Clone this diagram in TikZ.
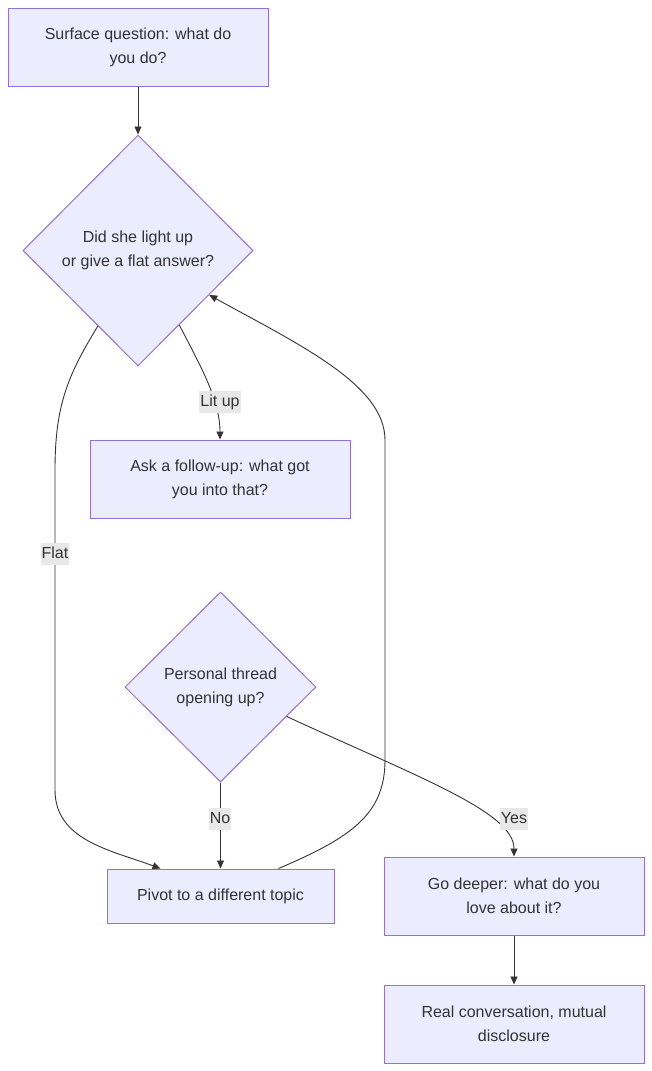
\documentclass[tikz,border=0pt]{standalone}
\usepackage{fontspec}
\setmainfont{Liberation Sans}
\usetikzlibrary{shapes.geometric,arrows.meta}
\definecolor{nodefill}{RGB}{236,236,255}
\definecolor{nodedraw}{RGB}{147,112,219}
\definecolor{edgecol}{RGB}{51,51,51}
\definecolor{labelbg}{RGB}{232,232,232}
\definecolor{txt}{RGB}{51,51,51}
\tikzset{
  box/.style={draw=nodedraw, fill=nodefill, line width=1pt, rectangle, inner sep=0pt,
    align=center, text=txt, font=\fontsize{16}{24}\selectfont},
  dia/.style={draw=nodedraw, fill=nodefill, line width=1pt, diamond, inner sep=0pt,
    align=center, text=txt, font=\fontsize{16}{24}\selectfont},
  edge/.style={draw=edgecol, line width=0.9pt, -{Triangle[length=8pt,width=7pt]}},
  elabel/.style={fill=labelbg, text=txt, inner xsep=1pt, inner ysep=0pt,
    text height=15pt, text depth=7pt, font=\fontsize{16}{20}\selectfont}
}
\begin{document}
\begin{tikzpicture}[x=1pt,y=-1pt]
\useasboundingbox (0,0) rectangle (652,1071);
\node[box, minimum width=260pt, minimum height=78pt] (b1) at (138,47) {Surface question: what do\\you do?};
\node[dia, minimum width=230pt, minimum height=231pt] (d1) at (138,250.5) {Did she light up\\or give a flat answer?};
\node[box, minimum width=260pt, minimum height=78pt] (b2) at (220,479) {Ask a follow-up: what got\\you into that?};
\node[dia, minimum width=191pt, minimum height=190pt] (d2) at (220.5,687) {Personal thread\\opening up?};
\node[box, minimum width=227pt, minimum height=54pt] (b3) at (220.5,896) {Pivot to a different topic};
\node[box, minimum width=260pt, minimum height=78pt] (b4) at (514,896) {Go deeper: what do you\\love about it?};
\node[box, minimum width=260pt, minimum height=78pt] (b5) at (514,1024) {Real conversation, mutual\\disclosure};

\draw[edge] (b1.south) -- (d1.north);
\draw[edge] (d1.-61.6) .. controls (200,365) and (220,400) .. (b2.north);
\node[elabel] (l1) at (220,402) {Lit up};
\draw[edge] (d1.-118.4) .. controls (68,375) and (55,405) .. (55,470) -- (55,790) .. controls (55,840) and (110,850) .. ([xshift=-60pt]b3.north);
\node[elabel] (l2) at (55,554) {Flat};
\draw[edge] ([xshift=58pt]b3.north) .. controls (350,838) and (385,815) .. (385,760) -- (385,440) .. controls (385,385) and (300,345) .. (d1.-32.4);
\draw[edge] (d2.south) -- (b3.north);
\node[elabel] (l3) at (220,819) {No};
\draw[edge] (d2.-24.1) .. controls (420,778) and (514,812) .. (b4.north);
\node[elabel] (l4) at (514,819) {Yes};
\draw[edge] (b4.south) -- (b5.north);
\end{tikzpicture}
\end{document}
